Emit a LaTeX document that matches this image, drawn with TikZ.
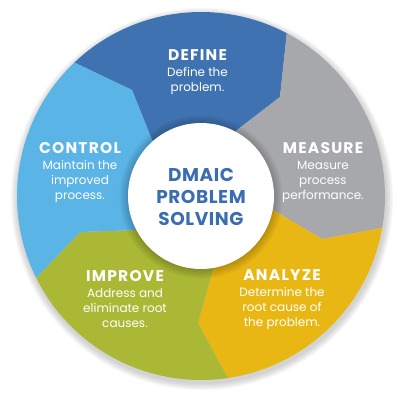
\documentclass[tikz,border=0pt]{standalone}
\usepackage{fontspec}
\setmainfont{Poppins}
\newfontfamily\titlefam[LetterSpace=8]{Poppins}
\newfontfamily\hubfam[LetterSpace=3]{Poppins}
\definecolor{cdefine}{RGB}{63,114,176}
\definecolor{ccontrol}{RGB}{90,180,230}
\definecolor{cmeasure}{RGB}{167,168,171}
\definecolor{canalyze}{RGB}{233,183,20}
\definecolor{cimprove}{RGB}{170,184,53}
\definecolor{ctext}{RGB}{59,110,176}
\begin{document}
\begin{tikzpicture}[x=1pt,y=-1pt,
  lab/.style={text=white, align=center, font=\fontsize{12}{15}\selectfont, inner sep=0pt},
  hub/.style={text=ctext, align=center, font=\hubfam\bfseries\fontsize{18.5}{22}\selectfont, inner sep=0pt}]
\newcommand{\ttl}{\titlefam\bfseries\fontsize{15.5}{15}\selectfont}
\useasboundingbox (0,0) rectangle (400,400);
% outer shadow
\foreach \i in {1,...,8}{
  \fill[black, opacity=0.025] (202,199) circle ({184+\i*0.9});
}
\coordinate (O) at (201,196);
\coordinate (DMo) at ([shift={(201,196)}]-62.2:184);
\coordinate (DMm) at (280,97);
\coordinate (DMi) at (237,130);
\coordinate (DCo) at ([shift={(201,196)}]-133.5:184);
\coordinate (DCm) at (132,90);
\coordinate (DCi) at (152,140);
\coordinate (CIo) at ([shift={(201,196)}]153.6:184);
\coordinate (CIm) at (80,232);
\coordinate (CIi) at (137,230);
\coordinate (IAo) at ([shift={(201,196)}]81.6:184);
\coordinate (IAm) at (198,323);
\coordinate (IAi) at (213,270);
\coordinate (AMo) at ([shift={(201,196)}]10:184);
\coordinate (AMm) at (322,239);
\coordinate (AMi) at (273,210);
% segments
\fill[cdefine] (O) -- (DCi) -- (DCm) -- (DCo) arc[start angle=-133.5, end angle=-62.2, radius=184] -- (DMm) -- (DMi) -- cycle;
\fill[cmeasure] (O) -- (DMi) -- (DMm) -- (DMo) arc[start angle=-62.2, end angle=10, radius=184] -- (AMm) -- (AMi) -- cycle;
\fill[canalyze] (O) -- (AMi) -- (AMm) -- (AMo) arc[start angle=10, end angle=81.6, radius=184] -- (IAm) -- (IAi) -- cycle;
\fill[cimprove] (O) -- (IAi) -- (IAm) -- (IAo) arc[start angle=81.6, end angle=153.6, radius=184] -- (CIm) -- (CIi) -- cycle;
\fill[ccontrol] (O) -- (CIi) -- (CIm) -- (CIo) arc[start angle=153.6, end angle=226.5, radius=184] -- (DCm) -- (DCi) -- cycle;
% inner shadow
\foreach \i in {1,...,8}{
  \fill[black, opacity=0.028] (201,197) circle ({72+\i*1.2});
}
\fill[white] (201,196) circle (73);
% labels
\node[lab] (define) at (197.5,72.5) {{\ttl DEFINE}\\[1pt]Define the\\problem.};
\node[lab] (measure) at (323,172.5) {{\ttl MEASURE}\\[1pt]Measure\\process\\performance.};
\node[lab] (control) at (80,172.5) {{\ttl CONTROL}\\[1pt]Maintain the\\improved\\process.};
\node[lab] (improve) at (125,299.5) {{\ttl IMPROVE}\\[1pt]Address and\\eliminate root\\causes.};
\node[lab] (analyze) at (282,299.5) {{\ttl ANALYZE}\\[1pt]Determine the\\root cause of\\the problem.};
\node[hub] (hub) at (201,197) {DMAIC\\PROBLEM\\SOLVING};
\end{tikzpicture}
\end{document}
